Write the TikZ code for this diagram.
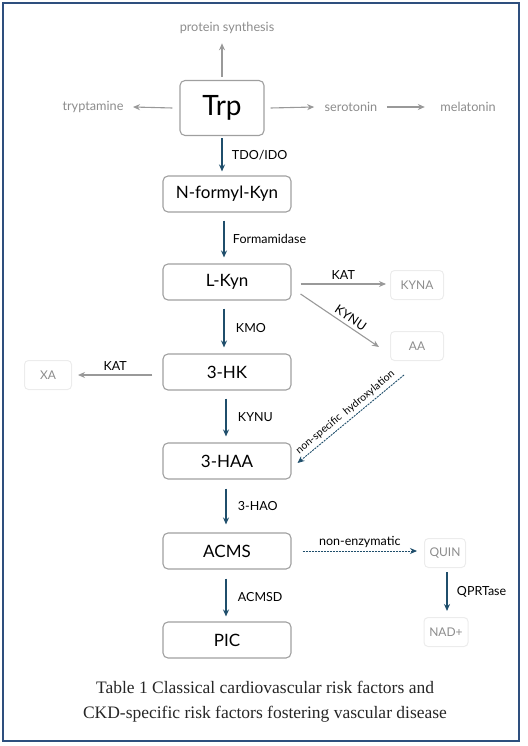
\documentclass[tikz,border=0pt]{standalone}
\usepackage{fontspec}
\setmainfont{Lato}
\newfontfamily\captionserif{Liberation Serif}
\usetikzlibrary{arrows.meta}
\definecolor{pathblue}{HTML}{1F4E6B}
\definecolor{sidegray}{HTML}{8C8C8C}
\definecolor{framenavy}{HTML}{2E4F7E}
\tikzstyle{metab}=[draw=gray!75,rounded corners=5pt,line width=1.1pt,minimum width=128pt,minimum height=36pt,font=\fontsize{17}{20}\selectfont]
\tikzstyle{side}=[draw=gray!15,rounded corners=4pt,line width=1pt,minimum height=29pt,text=sidegray,font=\fontsize{12}{14}\selectfont]
\tikzstyle{fate}=[text=sidegray,font=\fontsize{12.7}{15}\selectfont]
\tikzstyle{enz}=[font=\fontsize{12.5}{14}\selectfont]
\tikzstyle{mainstep}=[-{Stealth[length=7pt,width=6pt]},draw=pathblue,line width=1.3pt]
\tikzstyle{sidestep}=[-{Stealth[length=7pt,width=6pt]},draw=gray!80,line width=1.1pt]
\tikzstyle{guess}=[-{Stealth[length=7pt,width=6pt]},draw=pathblue,line width=0.9pt,dash pattern=on 2pt off 1pt]

\begin{document}
\begin{tikzpicture}[x=1pt,y=-1pt]
  \useasboundingbox (0,0) rectangle (527,746);
  \draw[framenavy,line width=2pt] (3,3) rectangle (519,741);

  % main pathway
  \node[metab,minimum width=84pt,minimum height=55pt,font=\fontsize{28}{32}\selectfont] (trp) at (222,108) {Trp};
  \node[metab] (nfk) at (227,194) {N-formyl-Kyn};
  \node[metab] (lkyn) at (227,282) {L-Kyn};
  \node[metab] (hk) at (227,372) {3-HK};
  \node[metab] (haa) at (227,461) {3-HAA};
  \node[metab] (acms) at (227,551) {ACMS};
  \node[metab] (pic) at (227,640) {PIC};

  % other fates of Trp
  \node[fate] (prot) at (227,28) {protein synthesis};
  \node[fate] (trypt) at (93,107) {tryptamine};
  \node[fate] (sero) at (351,107) {serotonin};
  \node[fate] (mela) at (468,107) {melatonin};

  % side products
  \node[side,minimum width=53pt] (kyna) at (417,285) {KYNA};
  \node[side,minimum width=53pt] (aa) at (417,346) {AA};
  \node[side,minimum width=47pt] (xa) at (48,375) {XA};
  \node[side,minimum width=41pt] (quin) at (445,553) {QUIN};
  \node[side,minimum width=44pt] (nad) at (446,632) {NAD+};

  \draw[sidestep] ([yshift=3pt]trp.north) -- ([yshift=-6pt]prot.south -| trp.north);
  \draw[sidestep] ([xshift=-7pt]trp.west) -- ([xshift=6pt]trypt.east);
  \draw[sidestep] ([xshift=6pt]trp.east) -- ([xshift=-7pt]sero.west);
  \draw[sidestep] ([xshift=6pt]sero.east) -- ([xshift=-12pt]mela.west);

  \draw[mainstep] ([yshift=-2pt]trp.south) -- node[enz,right,xshift=6pt] {TDO/IDO} ([yshift=4pt]nfk.north -| trp.south);
  \draw[mainstep] ([xshift=-3pt,yshift=-8pt]nfk.south) -- node[enz,right,xshift=5pt] {Formamidase} ([xshift=-3pt,yshift=6pt]lkyn.north);
  \draw[mainstep] ([xshift=-3pt,yshift=-8pt]lkyn.south) -- node[enz,right,xshift=8pt] {KMO} ([xshift=-3pt,yshift=6pt]hk.north);
  \draw[mainstep] ([xshift=-1pt,yshift=-8pt]hk.south) -- node[enz,right,xshift=8pt] {KYNU} ([xshift=-1pt,yshift=6pt]haa.north);
  \draw[mainstep] ([xshift=-1pt,yshift=-9pt]haa.south) -- node[enz,right,xshift=8pt] {3-HAO} ([xshift=-1pt,yshift=8pt]acms.north);
  \draw[mainstep] ([xshift=-1pt,yshift=-9pt]acms.south) -- node[enz,right,xshift=8pt] {ACMSD} ([xshift=-1pt,yshift=5pt]pic.north);

  \draw[sidestep] ([xshift=9pt,yshift=-2pt]lkyn.east) -- node[enz,above,yshift=1pt] {KAT} ([xshift=-4pt,yshift=1pt]kyna.west);
  \draw[sidestep] ([xshift=9pt,yshift=-12pt]lkyn.east) -- node[enz,above,sloped,pos=0.58] {KYNU} ([xshift=-11pt,yshift=-1pt]aa.west);
  \draw[sidestep] ([xshift=-10pt,yshift=-3pt]hk.west) -- node[enz,above,yshift=1pt] {KAT} ([xshift=6pt]xa.east);

  \draw[guess] ([xshift=-40pt,yshift=-14pt]aa.south east) -- node[font=\fontsize{10.5}{12}\selectfont,above,sloped] {non-specific\ \ hydroxylation} ([xshift=6pt,yshift=-2pt]haa.east);
  \draw[guess] ([xshift=11pt]acms.east) -- node[enz,above] {non-enzymatic} ([xshift=-7pt,yshift=2pt]quin.west);
  \draw[mainstep] ([xshift=2pt,yshift=-4pt]quin.south) -- node[enz,right,xshift=6pt] {QPRTase} ([xshift=1pt,yshift=6pt]nad.north);

  % caption
  \node[font=\captionserif\fontsize{17.5}{25}\selectfont,align=center,text=black!85] (caption) at (265,702) {Table 1 Classical cardiovascular risk factors and\\CKD-specific risk factors fostering vascular disease};
\end{tikzpicture}
\end{document}
